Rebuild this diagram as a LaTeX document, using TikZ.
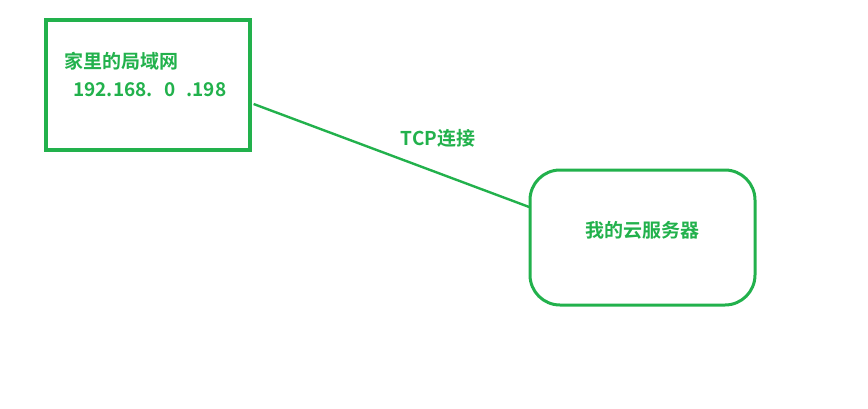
\documentclass[tikz,border=0pt]{standalone}
\usepackage{fontspec}
\usepackage{xcolor}
\usetikzlibrary{positioning, calc}
\newfontfamily\cjk{Noto Sans CJK SC}[BoldFont={Noto Sans CJK SC Bold}]
\definecolor{PaintGreen}{HTML}{22B14C}

\begin{document}
\begin{tikzpicture}[
  x=1pt, y=-1pt,
  hostbox/.style={draw=PaintGreen, line width=3.2pt, minimum width=204pt, minimum height=130pt, inner sep=0pt},
  cloudbox/.style={draw=PaintGreen, line width=3pt, rounded corners=30pt, minimum width=225pt, minimum height=135pt, inner sep=0pt},
  label/.style={text=PaintGreen, font=\cjk\bfseries\fontsize{19}{22}\selectfont, inner sep=0pt},
  linkstyle/.style={draw=PaintGreen, line width=2.4pt}
  ]
  \useasboundingbox (0,0) rectangle (868,408);
  % Home LAN
  \node[hostbox] (lan) at (148,85) {};
  \node[label, anchor=west] (lanname) at (64,61) {家里的局域网};
  \node[label, anchor=west] (lanip) at (73,90) {192.168.\textcolor{white}{1}0\textcolor{white}{1}.198};
  % Cloud server
  \node[cloudbox] (cloud) at (642.5,237.5) {};
  \node[label] (cloudname) at (642,230) {我的云服务器};
  % Link
  \draw[linkstyle] ([xshift=2pt, yshift=-19pt]lan.east) -- ([xshift=2pt, yshift=30pt]cloud.west);
  \node[label] (tcp) at (438,138) {TCP连接};
\end{tikzpicture}
\end{document}
